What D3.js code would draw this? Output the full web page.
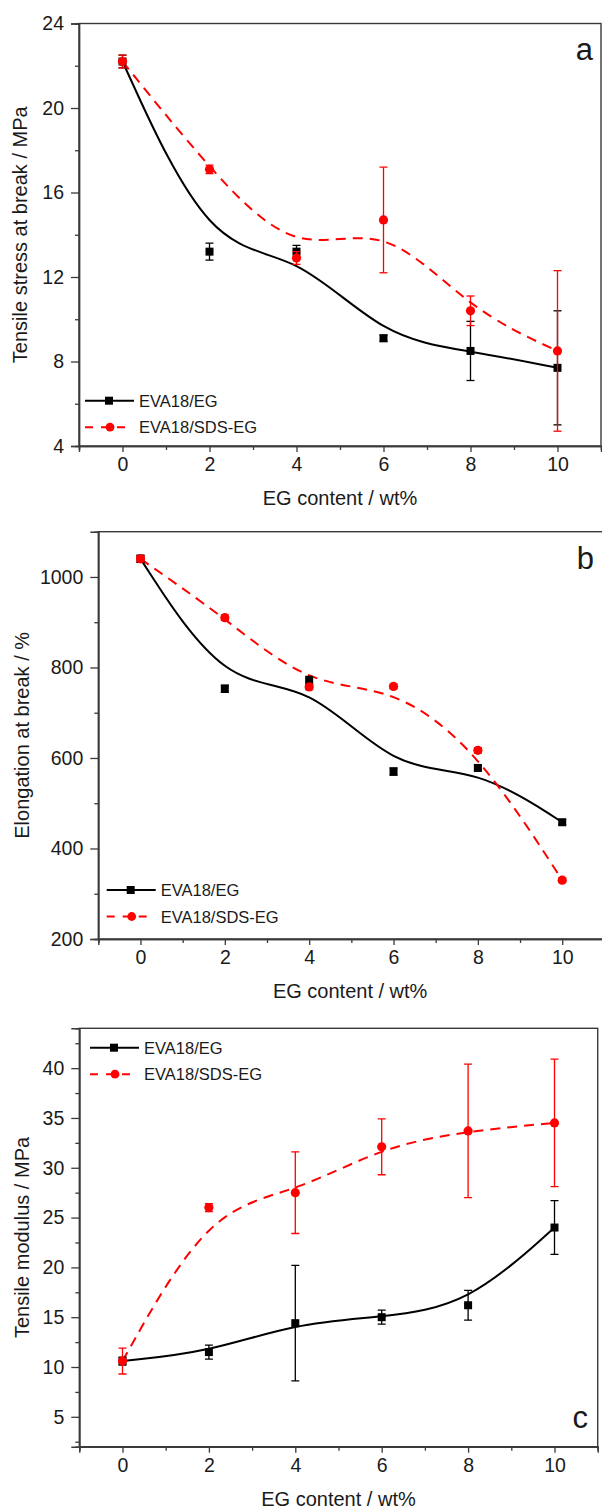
<!DOCTYPE html>
<html>
<head>
<meta charset="utf-8">
<script src="https://cdn.jsdelivr.net/npm/d3@7"></script>
<style>
  body { margin: 0; background: #fff; }
  svg text { font-family: "Liberation Sans", Arial, sans-serif; fill: #1a1a1a; }
</style>
</head>
<body>
<svg id="fig" width="602" height="1511"></svg>
<script>
// EG loading, wt%
var egContent = [0, 2, 4, 6, 8, 10];

// a - tensile stress at break (MPa)
var stressEG = [22.2, 13.2, 13.2, 9.1, 8.5, 7.7];
var stressEGErr = [0.3, 0.4, 0.3, 0.15, 1.4, 2.7];
var stressSDS = [22.2, 17.1, 12.9, 14.7, 10.4, 8.5];
var stressSDSErr = [0.3, 0.2, 0.3, 2.5, 0.7, 3.8];

// b - elongation at break (%)
var elongEG = [1040, 753, 770, 570, 578, 458];
var elongEGErr = [8, 8, 10, 8, 6, 6];
var elongSDS = [1040, 910, 757, 758, 617, 330];
var elongSDSErr = [6, 6, 6, 5, 6, 5];

// c - tensile modulus (MPa)
var modEG = [10.6, 11.5, 14.4, 15.0, 16.2, 24.0];
var modEGErr = [0.4, 0.7, 5.8, 0.7, 1.5, 2.7];
var modSDS = [10.6, 26.0, 27.5, 32.1, 33.7, 34.5];
var modSDSErr = [1.3, 0.4, 4.1, 2.8, 6.7, 6.4];

// tick values
var xMajor = [0, 2, 4, 6, 8, 10];
var xMinor = [-1, 1, 3, 5, 7, 9, 11];
var stressMajor = [4, 8, 12, 16, 20, 24];
var stressMinor = [6, 10, 14, 18, 22];
var elongMajor = [200, 400, 600, 800, 1000];
var elongMinor = [300, 500, 700, 900];
var modMajor = [5, 10, 15, 20, 25, 30, 35, 40];
var modMinor = [2.5, 7.5, 12.5, 17.5, 22.5, 27.5, 32.5, 37.5, 42.5];

var seriesNames = ["EVA18/EG", "EVA18/SDS-EG"];
var xTitle = "EG content / wt%";

var svg = d3.select("#fig");

function drawPanel(p) {
	var g = svg.append("g");
	var x = d3.scaleLinear().domain([-1, 11]).range([p.left, p.right]);
	var y = d3.scaleLinear().domain(p.yDomain).range([p.bottom, p.top]);

	// frame
	g.append("rect")
		.attr("x", p.left).attr("y", p.top)
		.attr("width", p.right - p.left).attr("height", p.bottom - p.top)
		.attr("fill", "none").attr("stroke", "#3a3a3a").attr("stroke-width", 1.4);

	// x axis
	var xAxis = g.append("g").attr("transform", "translate(0," + p.bottom + ")");
	xAxis.call(d3.axisBottom(x).tickValues(xMajor).tickSize(6).tickPadding(5).tickFormat(d3.format("d")));
	xAxis.append("g").call(d3.axisBottom(x).tickValues(xMinor).tickSize(4).tickFormat(""));
	// y axis
	var yAxis = g.append("g").attr("transform", "translate(" + p.left + ",0)");
	yAxis.call(d3.axisLeft(y).tickValues(p.yMajor).tickSize(8).tickPadding(7).tickFormat(d3.format("d")));
	yAxis.append("g").call(d3.axisLeft(y).tickValues(p.yMinor).tickSize(4).tickFormat(""));

	g.selectAll(".domain").attr("stroke", "#3a3a3a").attr("stroke-width", 1.4);
	g.selectAll(".tick line").attr("stroke", "#3a3a3a").attr("stroke-width", 1.3);
	g.selectAll(".tick text").attr("font-size", 19.5).attr("font-family", "Liberation Sans, Arial, sans-serif").attr("fill", "#1a1a1a");

	// axis titles
	g.append("text")
		.attr("x", (p.left + Math.min(p.right, 602)) / 2)
		.attr("y", p.bottom + 59)
		.attr("text-anchor", "middle").attr("font-size", 20)
		.text(xTitle);
	g.append("text")
		.attr("transform", "translate(" + p.yTitleX + "," + (p.top + p.bottom) / 2 + ") rotate(-90)")
		.attr("text-anchor", "middle").attr("font-size", 20)
		.text(p.yTitle);

	// panel letter
	g.append("text")
		.attr("x", p.letterX).attr("y", p.letterY)
		.attr("text-anchor", "end").attr("font-size", 31)
		.text(p.letter);

	var clip = "clip-" + p.letter;
	g.append("clipPath").attr("id", clip).append("rect")
		.attr("x", p.left).attr("y", p.top)
		.attr("width", p.right - p.left).attr("height", p.bottom - p.top);

	var series = [
		{ vals: p.eg, err: p.egErr, color: "#000", dash: null, shape: "square" },
		{ vals: p.sds, err: p.sdsErr, color: "#ff0000", dash: "10,7", shape: "circle" }
	];

	var line = d3.line()
		.x(function(d) { return x(d[0]); })
		.y(function(d) { return y(d[1]); })
		.curve(d3.curveBasis);

	var plot = g.append("g").attr("clip-path", "url(#" + clip + ")");

	// B-spline curves
	series.forEach(function(s) {
		var pts = egContent.map(function(v, i) { return [v, s.vals[i]]; });
		plot.append("path")
			.datum(pts)
			.attr("d", line)
			.attr("fill", "none")
			.attr("stroke", s.color)
			.attr("stroke-width", 2)
			.attr("stroke-dasharray", s.dash);
	});

	// error bars + symbols
	series.forEach(function(s) {
		egContent.forEach(function(v, i) {
			var cx = x(v), lo = y(s.vals[i] - s.err[i]), hi = y(s.vals[i] + s.err[i]);
			plot.append("line").attr("x1", cx).attr("x2", cx).attr("y1", lo).attr("y2", hi)
				.attr("stroke", s.color).attr("stroke-width", 1.3);
			[lo, hi].forEach(function(yy) {
				plot.append("line").attr("x1", cx - 4).attr("x2", cx + 4).attr("y1", yy).attr("y2", yy)
					.attr("stroke", s.color).attr("stroke-width", 1.3);
			});
			if (s.shape == "square") {
				plot.append("rect").attr("x", cx - 4).attr("y", y(s.vals[i]) - 4)
					.attr("width", 8).attr("height", 8).attr("fill", s.color);
			} else {
				plot.append("circle").attr("cx", cx).attr("cy", y(s.vals[i])).attr("r", 4.6)
					.attr("fill", s.color);
			}
		});
	});

	// legend
	series.forEach(function(s, i) {
		var ly = p.legendY + i * 26.5, lx = p.legendX;
		var len = s.dash ? 41 : 49;
		g.append("line").attr("x1", lx).attr("x2", lx + len).attr("y1", ly).attr("y2", ly)
			.attr("stroke", s.color).attr("stroke-width", 2).attr("stroke-dasharray", s.dash ? "8,8" : null);
		if (s.shape == "square") {
			g.append("rect").attr("x", lx + 24 - 4).attr("y", ly - 4).attr("width", 8).attr("height", 8).attr("fill", s.color);
		} else {
			g.append("circle").attr("cx", lx + 25).attr("cy", ly).attr("r", 4.4).attr("fill", s.color);
		}
		g.append("text").attr("x", lx + 54).attr("y", ly + 6)
			.attr("font-size", 16.5).text(seriesNames[i]);
	});
}

drawPanel({
	letter: "a", left: 79, right: 601, top: 23.5, bottom: 446,
	yDomain: [4, 24], yMajor: stressMajor, yMinor: stressMinor,
	eg: stressEG, egErr: stressEGErr, sds: stressSDS, sdsErr: stressSDSErr,
	yTitle: "Tensile stress at break / MPa", yTitleX: 27,
	letterX: 593, letterY: 60, legendX: 85, legendY: 400.7
});

drawPanel({
	letter: "b", left: 98.3, right: 604.4, top: 531.7, bottom: 939,
	yDomain: [200, 1100], yMajor: elongMajor, yMinor: elongMinor,
	eg: elongEG, egErr: elongEGErr, sds: elongSDS, sdsErr: elongSDSErr,
	yTitle: "Elongation at break / %", yTitleX: 29,
	letterX: 594, letterY: 569, legendX: 106.7, legendY: 890
});

drawPanel({
	letter: "c", left: 79.3, right: 597.7, top: 1028.3, bottom: 1446.7,
	yDomain: [2, 44], yMajor: modMajor, yMinor: modMinor,
	eg: modEG, egErr: modEGErr, sds: modSDS, sdsErr: modSDSErr,
	yTitle: "Tensile modulus / MPa", yTitleX: 29,
	letterX: 588, letterY: 1428, legendX: 90, legendY: 1047.7
});
</script>
</body>
</html>
